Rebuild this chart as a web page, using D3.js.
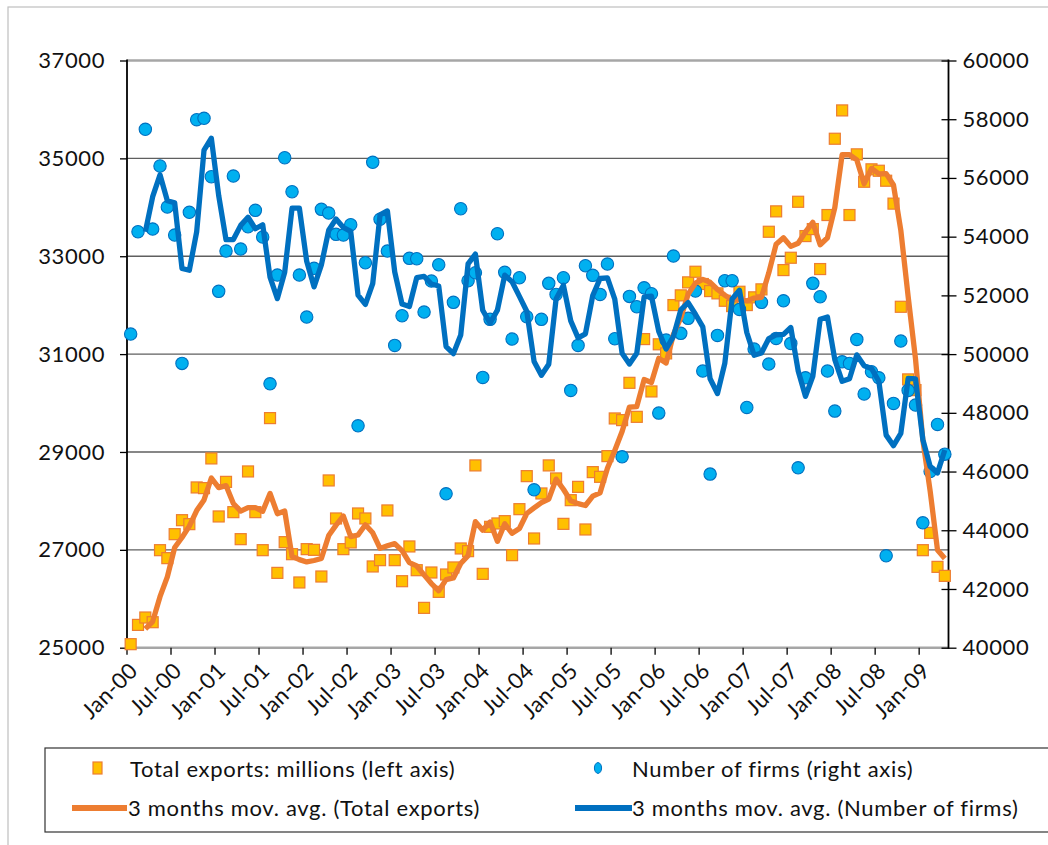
<!DOCTYPE html>
<html><head><meta charset="utf-8">
<script src="https://cdn.jsdelivr.net/npm/d3@7"></script>
<style>
html,body{margin:0;padding:0;background:#fff;}
svg{display:block;font-family:Lato,"Open Sans",sans-serif;}
</style></head>
<body>
<svg id="chart" width="1048" height="845"></svg>
<script>
// ---------- DATA ----------
const startMonth = new Date(2000, 0, 1);
const monthCount = 112; // Jan-00 .. Apr-09
const tickLabels = ["Jan-00","Jul-00","Jan-01","Jul-01","Jan-02","Jul-02","Jan-03","Jul-03","Jan-04","Jul-04","Jan-05","Jul-05","Jan-06","Jul-06","Jan-07","Jul-07","Jan-08","Jul-08","Jan-09"];
const leftTicks = [25000,27000,29000,31000,33000,35000,37000];
const rightTicks = [40000,42000,44000,46000,48000,50000,52000,54000,56000,58000,60000];

// Total exports: millions (left axis)
const exportsVals = [
25072,25466,25617,25521,26993,26830,27320,27606,27525,28275,28261,28868,
27682,28389,27770,27218,28602,27770,26993,29692,26529,27157,26911,26333,
27014,27000,26455,28418,27641,27014,27151,27743,27641,26660,26789,27805,
26789,26359,27069,26584,25814,26537,26141,26496,26640,27028,26973,28725,
26509,27470,27539,27586,26891,27831,28506,27232,28152,28725,28459,27531,
28015,28287,27416,28588,28492,28915,29685,29651,30413,29718,31307,30237,
31200,31014,32002,32200,32466,32683,32432,32288,32241,32090,31981,32274,
32002,32160,32323,33500,33917,32717,32969,34113,33412,33555,32738,33842,
35401,35980,33842,35082,34522,34776,34747,34543,34075,31967,30483,30264,
26993,27347,26652,26468];

// Number of firms (right axis)
const firmsVals = [
50682,54167,57656,54259,56406,55009,54055,49684,54828,57983,58031,56041,
52137,53510,56065,53578,54338,54896,53987,48989,52692,56688,55530,52692,
51261,52920,54930,54804,54078,54055,54406,47557,53111,56532,54590,53510,
50297,51306,53261,53248,51431,52487,53043,45241,51762,54951,52498,52770,
49207,51183,54099,52784,50511,52600,51271,45377,51183,52409,52034,52600,
48764,50297,53009,52682,52034,53067,50522,46502,51966,51612,52259,52055,
47990,50477,53339,50706,51217,52147,49421,45912,50637,52498,52498,51523,
48184,50171,51762,49660,50535,51816,50365,46127,49193,52409,51953,49421,
48058,49738,49681,50501,48638,49398,49193,43129,48321,50443,48764,48263,
44253,46000,47605,46593];

const legendItems = ["Total exports: millions (left axis)","Number of firms (right axis)",
  "3 months mov. avg. (Total exports)","3 months mov. avg. (Number of firms)"];

// ---------- CHART ----------
const months = d3.timeMonth.range(startMonth, d3.timeMonth.offset(startMonth, monthCount));
const fmtMonth = d3.timeFormat("%b-%y");
const categories = months.map(fmtMonth);

// 3-period moving average, as the Excel trendline does (starts at 3rd point)
function movAvg(arr){ return arr.map((v,i)=> i<2 ? null : {i, v:d3.mean(arr.slice(i-2,i+1))}).filter(d=>d); }

const svg = d3.select("#chart");
const L=127, R=948.5, T=60.5, B=647.7;
const x = d3.scaleBand().domain(categories).range([L,R]).padding(0);
const xc = c => x(c) + x.bandwidth()/2;
const yL = d3.scaleLinear().domain([25000,37000]).range([B,T]);
const yR = d3.scaleLinear().domain([40000,60000]).range([B,T]);

const orangeLine="#ED7D31", sqFill="#FFC000", blueLine="#0070C0", dotFill="#00B0F0";
const FS = 22;

// outer frame
svg.append("rect").attr("x",8).attr("y",7).attr("width",1060).attr("height",860)
  .attr("fill","none").attr("stroke","#bfbfbf").attr("stroke-width",1.2);

// gridlines
svg.append("g").selectAll("line").data(leftTicks.filter(t=>t>25000 && t<37000)).join("line")
  .attr("x1",L).attr("x2",R).attr("y1",d=>yL(d)).attr("y2",d=>yL(d))
  .attr("stroke","#5f5f5f").attr("stroke-width",1.4);
svg.append("line").attr("x1",L).attr("x2",R).attr("y1",yL(37000)).attr("y2",yL(37000))
  .attr("stroke","#a6a6a6").attr("stroke-width",2.4);
svg.append("line").attr("x1",L).attr("x2",R).attr("y1",B).attr("y2",B)
  .attr("stroke","#a6a6a6").attr("stroke-width",2.4);

// left axis
const gL = svg.append("g").attr("transform",`translate(${L},0)`)
  .call(d3.axisLeft(yL).tickValues(leftTicks).tickSize(7).tickPadding(15).tickFormat(d3.format("d")));
gL.select(".domain").remove();
gL.selectAll(".tick line").attr("stroke","#000").attr("stroke-width",1.3);
gL.selectAll("text").attr("font-size",FS).attr("fill","#111").attr("font-family","Lato,sans-serif").attr("letter-spacing","0.6px");
svg.append("line").attr("x1",L).attr("x2",L).attr("y1",T-1).attr("y2",B+1).attr("stroke","#000").attr("stroke-width",1.8);

// right axis
const gR = svg.append("g").attr("transform",`translate(${R},0)`)
  .call(d3.axisRight(yR).tickValues(rightTicks).tickSize(8).tickPadding(6).tickFormat(d3.format("d")));
gR.select(".domain").remove();
gR.selectAll(".tick line").attr("x1",-7).attr("stroke","#000").attr("stroke-width",1.3);
gR.selectAll("text").attr("font-size",FS).attr("fill","#111").attr("font-family","Lato,sans-serif").attr("letter-spacing","0.6px");
svg.append("line").attr("x1",R).attr("x2",R).attr("y1",T-1).attr("y2",B+1).attr("stroke","#000").attr("stroke-width",1.8);

// x axis ticks (between categories) and labels
svg.append("g").selectAll("line").data(tickLabels).join("line")
  .attr("x1",d=>x(d)).attr("x2",d=>x(d)).attr("y1",B).attr("y2",B+7)
  .attr("stroke","#000").attr("stroke-width",1.3);
svg.append("g").selectAll("text").data(tickLabels).join("text")
  .attr("transform",d=>`translate(${xc(d)+3},${B+19}) rotate(-45)`)
  .attr("text-anchor","end").attr("dy","0.35em").attr("letter-spacing","0.4px")
  .attr("font-size",FS).attr("fill","#111").text(d=>d);

// squares (exports)
const sq = 11;
svg.append("g").selectAll("rect").data(exportsVals).join("rect")
  .attr("x",(d,i)=>xc(categories[i])-sq/2).attr("y",d=>yL(d)-sq/2)
  .attr("width",sq).attr("height",sq)
  .attr("fill",sqFill).attr("stroke",orangeLine).attr("stroke-width",1.2);

// circles (firms)
svg.append("g").selectAll("circle").data(firmsVals).join("circle")
  .attr("cx",(d,i)=>xc(categories[i])).attr("cy",d=>yR(d)).attr("r",6.2)
  .attr("fill",dotFill).attr("stroke",blueLine).attr("stroke-width",1.1);

// moving averages
const lineL = d3.line().x(d=>xc(categories[d.i])).y(d=>yL(d.v));
const lineR = d3.line().x(d=>xc(categories[d.i])).y(d=>yR(d.v));
svg.append("path").datum(movAvg(exportsVals)).attr("d",lineL)
  .attr("fill","none").attr("stroke",orangeLine).attr("stroke-width",5.3).attr("stroke-linejoin","round");
svg.append("path").datum(movAvg(firmsVals)).attr("d",lineR)
  .attr("fill","none").attr("stroke",blueLine).attr("stroke-width",5.3).attr("stroke-linejoin","round");

// legend
const lg = svg.append("g");
lg.append("rect").attr("x",45).attr("y",748).attr("width",1020).attr("height",84)
  .attr("fill","#fff").attr("stroke","#333").attr("stroke-width",1.2);
lg.append("rect").attr("x",93).attr("y",762).attr("width",9).attr("height",12)
  .attr("fill",sqFill).attr("stroke",orangeLine).attr("stroke-width",1.2);
lg.append("ellipse").attr("cx",598).attr("cy",768).attr("rx",3.6).attr("ry",5.4)
  .attr("fill",dotFill).attr("stroke",blueLine).attr("stroke-width",1);
lg.append("line").attr("x1",72).attr("x2",127).attr("y1",808).attr("y2",808)
  .attr("stroke",orangeLine).attr("stroke-width",6);
lg.append("line").attr("x1",575).attr("x2",632).attr("y1",808).attr("y2",808)
  .attr("stroke",blueLine).attr("stroke-width",6);
const lpos = [[130,769],[632,769],[128,808],[632,808]];
lg.selectAll("text.leg").data(legendItems).join("text").attr("class","leg")
  .attr("x",(d,i)=>lpos[i][0]).attr("y",(d,i)=>lpos[i][1]).attr("dy","0.35em")
  .attr("font-size",FS).attr("letter-spacing","0.7px").attr("fill","#111").text(d=>d);
</script>
</body></html>
